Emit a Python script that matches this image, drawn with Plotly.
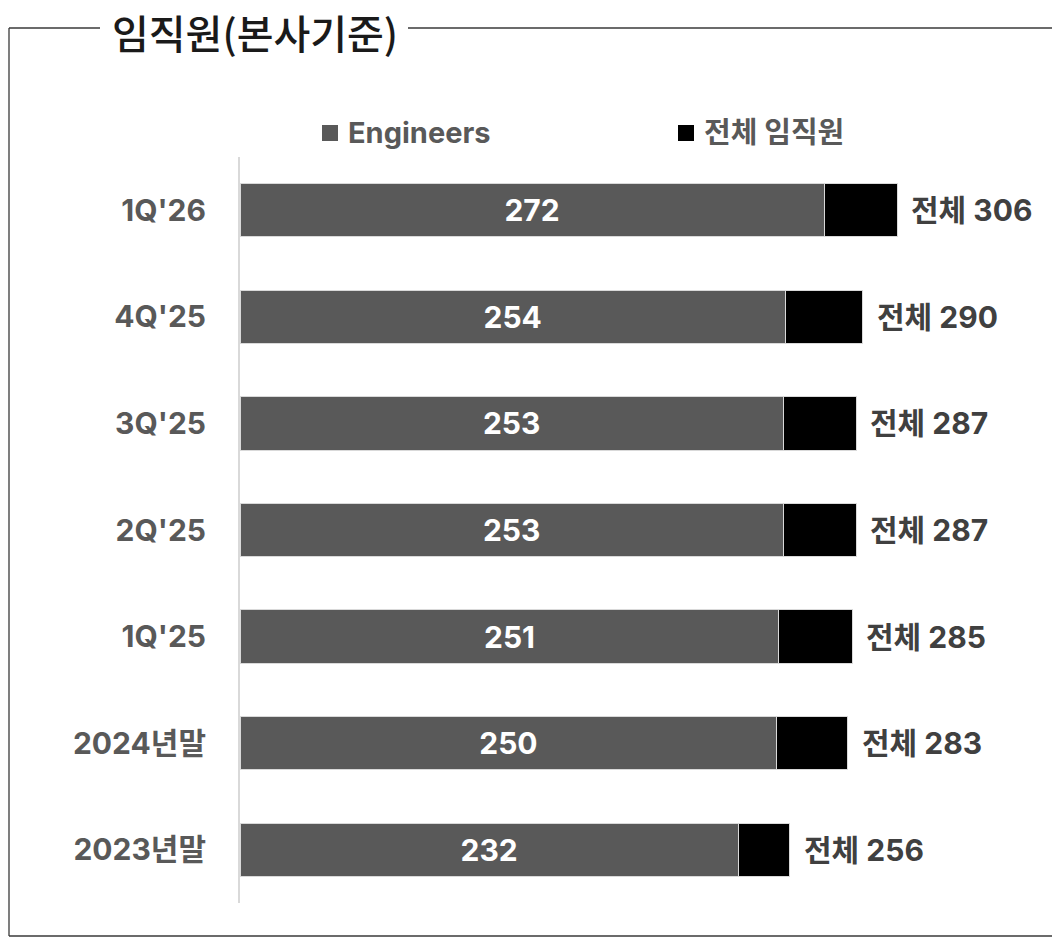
import plotly.graph_objects as go

categories = ["2023년말", "2024년말", "1Q'25", "2Q'25", "3Q'25", "4Q'25", "1Q'26"]
engineers = [232, 250, 251, 253, 253, 254, 272]
totals = [256, 283, 285, 287, 287, 290, 306]
others = [t - e for t, e in zip(totals, engineers)]
series_names = ["Engineers", "전체 임직원"]
series_colors = ["#595959", "#000000"]

W, H = 1060, 939
OFF = 8  # page body margin
L, T, B = 232, 149, 44
PW = 816
R = W - L - PW
PH = H - T - B

def px(x):
    return (x - OFF - L) / PW

def py(y):
    return (H - B - (y - OFF)) / PH

FONT = "Inter, Noto Sans CJK KR"
GRAY = "#595959"

fig = go.Figure()
fig.add_trace(go.Bar(
    y=categories, x=engineers, orientation="h", name=series_names[0],
    marker=dict(color=series_colors[0], line=dict(color="#d9d9d9", width=1)),
    text=engineers, texttemplate="%{text}", textposition="inside",
    insidetextanchor="middle",
    textfont=dict(family=FONT, size=30, color="white", weight="bold"),
    width=0.5, showlegend=False,
))
fig.add_trace(go.Bar(
    y=categories, x=others, orientation="h", name=series_names[1],
    marker=dict(color=series_colors[1], line=dict(color="#d9d9d9", width=1)),
    width=0.5, textposition="none", showlegend=False,
))

annotations = []
for c, t in zip(categories, totals):
    annotations.append(dict(
        x=t, y=c, xref="x", yref="y", text=f"전체 {t}", showarrow=False,
        xanchor="left", yanchor="middle", xshift=12,
        font=dict(family=FONT, size=30, color="#404040", weight="bold"),
    ))

annotations.append(dict(
    x=px(255), y=py(32), xref="paper", yref="paper", text="임직원(본사기준)",
    showarrow=False, xanchor="center", yanchor="middle",
    font=dict(family="Noto Sans CJK KR", size=40, color="#1a1a1a", weight=500),
))

# legend (square swatches + labels)
legend_x = [322, 678]
shapes = []
for lx, name, col in zip(legend_x, series_names, series_colors):
    shapes.append(dict(type="rect", xref="paper", yref="paper",
                       x0=px(lx), x1=px(lx + 16), y0=py(141), y1=py(125),
                       fillcolor=col, line=dict(width=0)))
    annotations.append(dict(
        x=px(lx + 24), y=py(133), xref="paper", yref="paper", text=name,
        showarrow=False, xanchor="left", yanchor="middle",
        font=dict(family=FONT, size=29, color=GRAY, weight="bold"),
    ))

line = dict(color="#3a3a3a", width=1.3)
shapes += [
    dict(type="line", xref="paper", yref="paper", x0=px(9), x1=px(9), y0=py(28), y1=py(936), line=line),
    dict(type="line", xref="paper", yref="paper", x0=px(9), x1=px(1070), y0=py(936), y1=py(936), line=line),
    dict(type="line", xref="paper", yref="paper", x0=px(9), x1=px(100), y0=py(28), y1=py(28), line=line),
    dict(type="line", xref="paper", yref="paper", x0=px(408), x1=px(1070), y0=py(28), y1=py(28), line=line),
]

fig.update_layout(
    width=W, height=H, barmode="stack",
    margin=dict(l=L, r=R, t=T, b=B, autoexpand=False),
    plot_bgcolor="white", paper_bgcolor="white",
    font=dict(family=FONT, color=GRAY),
    showlegend=False,
    xaxis=dict(range=[0, 380], visible=False, fixedrange=True),
    yaxis=dict(
        categoryorder="array", categoryarray=categories, range=[-0.5, 6.5],
        showline=True, linecolor="#d9d9d9", linewidth=2, showgrid=False,
        zeroline=False, ticks="", ticklabelstandoff=26,
        tickfont=dict(family=FONT, size=30, color=GRAY, weight="bold"),
    ),
    annotations=annotations, shapes=shapes,
)

fig.write_html("out.html")
